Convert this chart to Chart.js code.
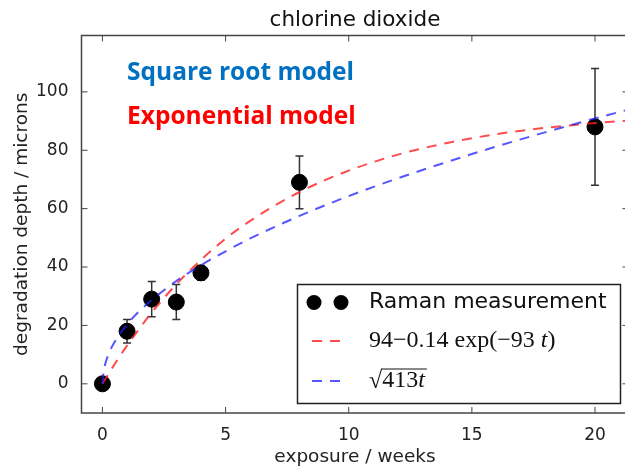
<!DOCTYPE html>
<html>
<head>
<meta charset="utf-8">
<script src="https://cdn.jsdelivr.net/npm/chart.js@4"></script>
<style>
  html, body { margin: 0; padding: 0; overflow: hidden; background: #fff; }
  #wrap { width: 630px; height: 469px; }
</style>
</head>
<body>
<div id="wrap"><canvas id="chart" width="630" height="469"></canvas></div>
<script>
// Raman measurements with error bars
const weeks = [0, 1, 2, 3, 4, 8, 20];
const depth = [0, 18, 29, 28, 38, 69, 88];
const depthErr = [0, 4, 6, 6, 2.5, 9, 20];

// model curves
const sqrtT = [0, 0.05, 0.1, 0.25, 0.5, 1, 1.5, 2, 3, 4, 5, 6, 8, 10, 12, 14, 16, 18, 20, 21.4];
const sqrtDepth = [0, 4.5, 6.4, 10.2, 14.4, 20.3, 24.9, 28.7, 35.2, 40.6, 45.4, 49.8, 57.5, 64.3, 70.4, 76.0, 81.3, 86.2, 90.9, 94.0];
const expT = [0, 0.5, 1, 1.5, 2, 3, 4, 5, 6, 8, 10, 12, 14, 16, 18, 20, 21.4];
const expDepth = [0, 6.8, 13.1, 18.9, 24.4, 34.1, 42.4, 49.7, 55.8, 65.7, 73.0, 78.5, 82.5, 85.5, 87.7, 89.3, 90.2];

const xTicks = [0, 5, 10, 15, 20];
const yTicks = [0, 20, 40, 60, 80, 100];

const RED = 'rgba(255, 30, 30, 0.8)';
const BLUE = 'rgba(30, 30, 255, 0.75)';
const DASH = [10, 8];

const toXY = (xs, ys) => xs.map((x, i) => ({ x: x, y: ys[i] }));

const decor = {
  id: 'decor',
  beforeDatasetsDraw(chart) {
    // error bars under the markers
    const { ctx, scales: { x, y } } = chart;
    ctx.save();
    ctx.strokeStyle = '#333';
    ctx.lineWidth = 1.5;
    weeks.forEach((w, i) => {
      if (!depthErr[i]) return;
      const px = x.getPixelForValue(w);
      const top = y.getPixelForValue(depth[i] + depthErr[i]);
      const bot = y.getPixelForValue(depth[i] - depthErr[i]);
      ctx.beginPath();
      ctx.moveTo(px, top); ctx.lineTo(px, bot);
      ctx.moveTo(px - 4, top); ctx.lineTo(px + 4, top);
      ctx.moveTo(px - 4, bot); ctx.lineTo(px + 4, bot);
      ctx.stroke();
    });
    ctx.restore();
  },
  afterDraw(chart) {
    const { ctx, chartArea: a, scales: { x, y } } = chart;
    ctx.save();

    // axes frame and inward ticks
    ctx.strokeStyle = '#444';
    ctx.lineWidth = 1.5;
    ctx.strokeRect(a.left, a.top, a.right - a.left, a.bottom - a.top);
    ctx.lineWidth = 1;
    ctx.beginPath();
    xTicks.forEach(v => {
      const px = x.getPixelForValue(v);
      ctx.moveTo(px, a.bottom); ctx.lineTo(px, a.bottom - 6);
      ctx.moveTo(px, a.top); ctx.lineTo(px, a.top + 6);
    });
    yTicks.forEach(v => {
      const py = y.getPixelForValue(v);
      ctx.moveTo(a.left, py); ctx.lineTo(a.left + 6, py);
      ctx.moveTo(a.right, py); ctx.lineTo(a.right - 6, py);
    });
    ctx.stroke();

    // title
    ctx.fillStyle = '#111';
    ctx.font = '21.5px "DejaVu Sans"';
    ctx.textAlign = 'center';
    ctx.textBaseline = 'middle';
    ctx.fillText('chlorine dioxide', (a.left + a.right) / 2, 20);

    // model names
    ctx.font = 'bold 24.5px "Open Sans"';
    ctx.textAlign = 'left';
    ctx.fillStyle = '#0070c0';
    ctx.fillText('Square root model', x.getPixelForValue(1.0), y.getPixelForValue(106.5));
    ctx.fillStyle = '#ff0000';
    ctx.fillText('Exponential model', x.getPixelForValue(1.0), y.getPixelForValue(91.5));

    // legend box
    const bx = 297.5, by = 284.5, bw = 323, bh = 119;
    ctx.fillStyle = '#fff';
    ctx.fillRect(bx, by, bw, bh);
    ctx.strokeStyle = '#222';
    ctx.lineWidth = 1.5;
    ctx.strokeRect(bx, by, bw, bh);

    const rows = [302.5, 341, 381];
    ctx.fillStyle = '#000';
    [314, 341].forEach(cx => {
      ctx.beginPath();
      ctx.arc(cx, rows[0], 7.5, 0, Math.PI * 2);
      ctx.fill();
    });
    ctx.lineWidth = 2;
    ctx.setLineDash(DASH);
    ctx.strokeStyle = RED;
    ctx.beginPath(); ctx.moveTo(312, rows[1]); ctx.lineTo(343, rows[1]); ctx.stroke();
    ctx.strokeStyle = BLUE;
    ctx.beginPath(); ctx.moveTo(312, rows[2]); ctx.lineTo(343, rows[2]); ctx.stroke();
    ctx.setLineDash([]);

    ctx.fillStyle = '#111';
    ctx.font = '22px "DejaVu Sans"';
    ctx.fillText('Raman measurement', 369, rows[0]);

    // math labels
    const tx = 369;
    const serif = sz => sz + 'px "Liberation Serif"';
    ctx.font = serif(24);
    let s = '94\u22120.14 exp(\u221293 ';
    ctx.fillText(s, tx, rows[1]);
    let w = ctx.measureText(s).width;
    ctx.font = 'italic ' + serif(24);
    ctx.fillText('t', tx + w, rows[1]);
    w += ctx.measureText('t').width;
    ctx.font = serif(24);
    ctx.fillText(')', tx + w, rows[1]);

    ctx.fillText('\u221a', tx, rows[2] + 1);
    const rw = ctx.measureText('\u221a').width;
    ctx.fillText('413', tx + rw, rows[2]);
    const nw = ctx.measureText('413').width;
    ctx.font = 'italic ' + serif(24);
    ctx.fillText('t', tx + rw + nw, rows[2]);
    const tw = ctx.measureText('t').width;
    ctx.strokeStyle = '#111';
    ctx.lineWidth = 1;
    ctx.beginPath();
    ctx.moveTo(tx + rw - 1, rows[2] - 12);
    ctx.lineTo(tx + rw + nw + tw + 2, rows[2] - 12);
    ctx.stroke();

    ctx.restore();
  }
};

new Chart(document.getElementById('chart'), {
  data: {
    datasets: [
      {
        type: 'scatter',
        label: 'Raman measurement',
        data: toXY(weeks, depth),
        backgroundColor: '#000',
        borderColor: '#000',
        pointRadius: 8,
        pointHoverRadius: 8,
        order: 3
      },
      {
        type: 'line',
        label: 'exponential',
        data: toXY(expT, expDepth),
        borderColor: RED,
        borderWidth: 2,
        borderDash: DASH,
        pointRadius: 0,
        fill: false,
        cubicInterpolationMode: 'monotone',
        order: 2
      },
      {
        type: 'line',
        label: 'square root',
        data: toXY(sqrtT, sqrtDepth),
        borderColor: BLUE,
        borderWidth: 2,
        borderDash: DASH,
        pointRadius: 0,
        fill: false,
        cubicInterpolationMode: 'monotone',
        order: 1
      }
    ]
  },
  options: {
    responsive: false,
    animation: false,
    devicePixelRatio: 1,
    layout: { autoPadding: false, padding: { top: 35.5, right: 1.5, left: 0, bottom: 0 } },
    plugins: {
      legend: { display: false },
      tooltip: { enabled: false },
      title: { display: false }
    },
    scales: {
      x: {
        type: 'linear',
        min: -0.85,
        max: 21.36,
        afterBuildTicks: s => { s.ticks = xTicks.map(v => ({ value: v })); },
        afterFit: s => { s.height = 56; s.paddingLeft = 0; s.paddingRight = 0; },
        grid: { display: false },
        border: { display: false },
        ticks: { color: '#222', font: { family: 'DejaVu Sans', size: 17 }, padding: 4, maxRotation: 0 },
        title: {
          display: true,
          text: 'exposure / weeks',
          color: '#222',
          font: { family: 'DejaVu Sans', size: 18.5 },
          padding: { top: 0, bottom: 1 }
        }
      },
      y: {
        type: 'linear',
        min: -10,
        max: 119.3,
        afterBuildTicks: s => { s.ticks = yTicks.map(v => ({ value: v })); },
        afterFit: s => { s.width = 81.5; s.paddingTop = 0; s.paddingBottom = 0; },
        grid: { display: false },
        border: { display: false },
        ticks: { color: '#222', font: { family: 'DejaVu Sans', size: 17 }, padding: 5 },
        title: {
          display: true,
          text: 'degradation depth / microns',
          color: '#222',
          font: { family: 'DejaVu Sans', size: 18.5 },
          padding: { top: 11, bottom: 0 }
        }
      }
    }
  },
  plugins: [decor]
});
</script>
</body>
</html>
